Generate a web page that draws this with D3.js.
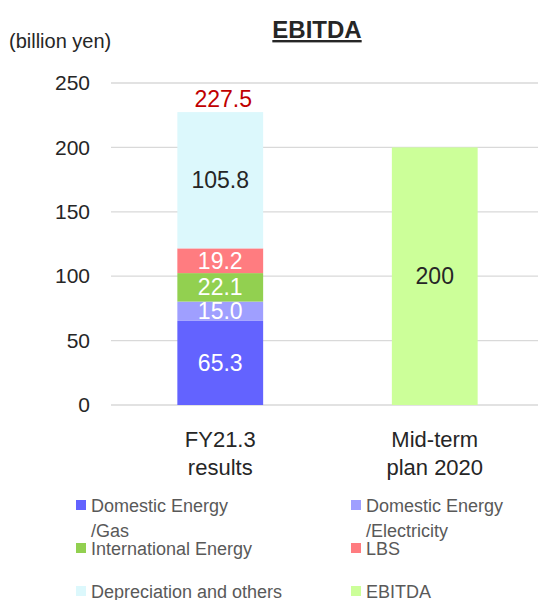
<!DOCTYPE html>
<html>
<head>
<meta charset="utf-8">
<script src="https://cdn.jsdelivr.net/npm/d3@7"></script>
<style>
  body { margin: 0; background: #fff; }
  svg { display: block; font-family: 'Liberation Sans Narrow', 'Arial Narrow', 'Liberation Sans', sans-serif; }
</style>
</head>
<body>
<div id="chart"></div>
<script>
const categories = [['FY21.3', 'results'], ['Mid-term', 'plan 2020']]
const seriesNames = ['Domestic Energy/Gas', 'Domestic Energy/Electricity', 'International Energy', 'LBS', 'Depreciation and others', 'EBITDA']
const legendLabels = [['Domestic Energy', '/Gas'], ['Domestic Energy', '/Electricity'], ['International Energy'], ['LBS'], ['Depreciation and others'], ['EBITDA']]
const colors = ['#6363ff', '#9f9fff', '#92d050', '#ff7c80', '#dcf8fc', '#ccff99']
// values per series, one per category
const gas = [65.3, 0]
const electricity = [15.0, 0]
const international = [22.1, 0]
const lbs = [19.2, 0]
const depreciation = [105.8, 0]
const ebitda = [0, 200]
const totals = [227.5, null]
const yTicks = [0, 50, 100, 150, 200, 250]

const width = 538
const height = 600

const svg = d3.select('#chart')
  .append('svg')
  .attr('width', width)
  .attr('height', height)

const x = d3.scaleBand()
  .domain(d3.range(categories.length))
  .range([113, 542])
  .paddingInner(0.6)
  .paddingOuter(0.3)

const y = d3.scaleLinear()
  .domain([0, 250])
  .range([405, 83])

// gridlines
svg.append('g')
  .selectAll('line')
  .data(yTicks)
  .join('line')
  .attr('x1', 111)
  .attr('x2', width)
  .attr('y1', d => y(d))
  .attr('y2', d => y(d))
  .attr('stroke', '#d9d9d9')
  .attr('stroke-width', 1.3)

// y axis labels
const yAxis = svg.append('g')
  .attr('transform', 'translate(90,0)')
  .call(d3.axisLeft(y).tickValues(yTicks).tickSize(0).tickPadding(0))
yAxis.select('.domain').remove()
yAxis.selectAll('text')
  .attr('font-size', 21)
  .attr('fill', '#262626')
  .attr('font-family', 'inherit')

svg.append('text')
  .attr('x', 9)
  .attr('y', 48)
  .attr('font-size', 20)
  .attr('fill', '#262626')
  .text('(billion yen)')

svg.append('text')
  .attr('x', 317)
  .attr('y', 38)
  .attr('text-anchor', 'middle')
  .attr('font-size', 24)
  .attr('font-weight', 'bold')
  .attr('text-decoration', 'underline')
  .attr('fill', '#262626')
  .text('EBITDA')

// stacked bars
const rows = categories.map((c, i) => ({
  i,
  'Domestic Energy/Gas': gas[i],
  'Domestic Energy/Electricity': electricity[i],
  'International Energy': international[i],
  'LBS': lbs[i],
  'Depreciation and others': depreciation[i],
  'EBITDA': ebitda[i]
}))
const stacked = d3.stack().keys(seriesNames)(rows)

const labelColors = ['#fff', '#fff', '#fff', '#fff', '#262626', '#262626']

stacked.forEach((layer, k) => {
  layer.forEach((seg, i) => {
    const v = seg[1] - seg[0]
    if (v <= 0) return
    svg.append('rect')
      .attr('x', x(i))
      .attr('width', x.bandwidth())
      .attr('y', y(seg[1]))
      .attr('height', y(seg[0]) - y(seg[1]))
      .attr('fill', colors[k])
    svg.append('text')
      .attr('x', x(i) + x.bandwidth() / 2)
      .attr('y', (y(seg[0]) + y(seg[1])) / 2 + 8)
      .attr('text-anchor', 'middle')
      .attr('font-size', 23)
      .attr('fill', labelColors[k])
      .text(k === 5 ? d3.format('d')(v) : d3.format('.1f')(v))
  })
})

// totals
totals.forEach((t, i) => {
  if (t == null) return
  svg.append('text')
    .attr('x', x(i) + x.bandwidth() / 2 + 3)
    .attr('y', y(t) - 5)
    .attr('text-anchor', 'middle')
    .attr('font-size', 23)
    .attr('fill', '#c00000')
    .text(d3.format('.1f')(t))
})

// category labels
categories.forEach((c, i) => {
  const t = svg.append('text')
    .attr('text-anchor', 'middle')
    .attr('font-size', 22)
    .attr('fill', '#262626')
  c.forEach((line, j) => {
    t.append('tspan')
      .attr('x', x(i) + x.bandwidth() / 2)
      .attr('y', 447 + j * 28)
      .text(line)
  })
})

// legend
const legendX = [76, 351]
const legendY = [506, 549, 592]
legendLabels.forEach((lines, k) => {
  const lx = legendX[k % 2]
  const ly = legendY[Math.floor(k / 2)]
  svg.append('rect')
    .attr('x', lx)
    .attr('y', ly - 6)
    .attr('width', 10)
    .attr('height', 10)
    .attr('fill', colors[k])
  const t = svg.append('text')
    .attr('font-size', 18)
    .attr('fill', '#595959')
  lines.forEach((line, j) => {
    t.append('tspan')
      .attr('x', lx + 15)
      .attr('y', ly + 6 + j * 25)
      .text(line)
  })
})
</script>
</body>
</html>
